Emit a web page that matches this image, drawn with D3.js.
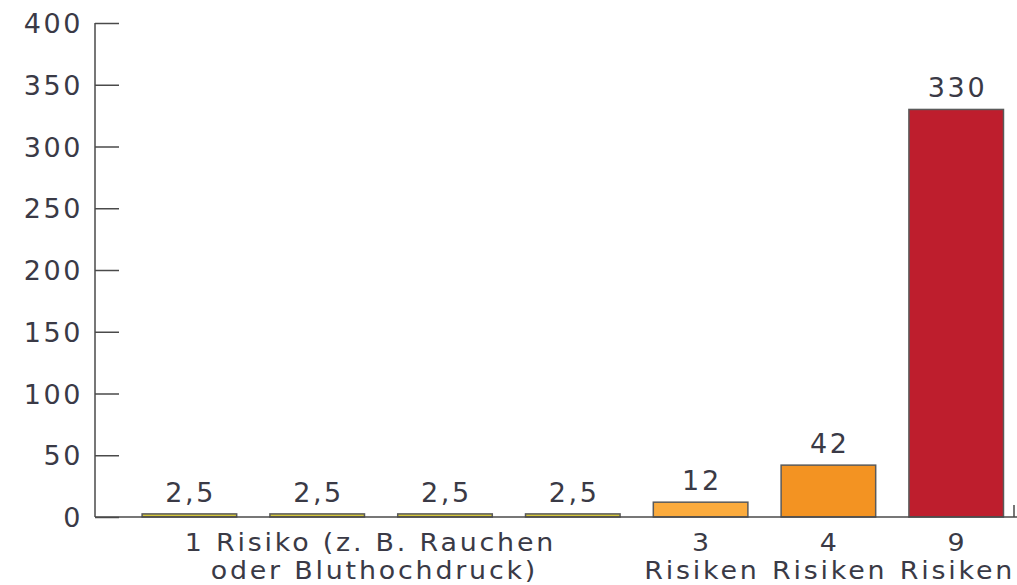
<!DOCTYPE html>
<html>
<head>
<meta charset="utf-8">
<script src="https://cdn.jsdelivr.net/npm/d3@7"></script>
<style>
  body { margin: 0; background: #fff; }
  text { font-family: "DejaVu Sans", sans-serif; fill: #3a3a46; font-size: 27px; letter-spacing: 2.6px; }
  text.cat { font-size: 24px; letter-spacing: 2.5px; }
</style>
</head>
<body>
<svg id="main_svg" width="1017" height="585"></svg>
<script>
// data
let categories = ["r1a", "r1b", "r1c", "r1d", "r3", "r4", "r9"];
let values = [2.5, 2.5, 2.5, 2.5, 12, 42, 330];
let valueLabels = ["2,5", "2,5", "2,5", "2,5", "12", "42", "330"];
let barColors = ["#d6c83c", "#d6c83c", "#d6c83c", "#d6c83c", "#fbab3d", "#f39322", "#be1e2d"];
let yTicks = [0, 50, 100, 150, 200, 250, 300, 350, 400];
let catLabels = [null, null, null, null, ["3", "Risiken"], ["4", "Risiken"], ["9", "Risiken"]];
let groupLabel = ["1 Risiko (z. B. Rauchen", "oder Bluthochdruck)"];

let svg = d3.select("#main_svg");

let x = d3.scaleBand()
    .domain(categories)
    .range([125.5, 125.5 + 7 * 127.8])
    .paddingInner(0.26)
    .paddingOuter(0.13);

let y = d3.scaleLinear()
    .domain([0, 400])
    .range([517, 23]);

let axisX = 95;
let sp = 1.3; // half of the letter spacing, trailing gap

// y axis
let yAxis = svg.append("g")
    .attr("transform", "translate(" + axisX + ",0)")
    .call(d3.axisRight(y).tickValues(yTicks).tickSize(24).tickFormat(""));
yAxis.select(".domain").remove();
yAxis.selectAll("line").attr("stroke", "#4a4a4a").attr("stroke-width", 1.5);

svg.append("line")
    .attr("x1", axisX).attr("x2", axisX)
    .attr("y1", y(400)).attr("y2", y(0))
    .attr("stroke", "#4a4a4a").attr("stroke-width", 1.5);

svg.selectAll("text.ylab")
    .data(yTicks)
    .enter().append("text")
    .attr("class", "ylab")
    .attr("x", 83)
    .attr("y", d => y(d) + 10)
    .attr("text-anchor", "end")
    .text(d => d);

// bars
svg.selectAll("rect.bar")
    .data(values)
    .enter().append("rect")
    .attr("class", "bar")
    .attr("x", (d, i) => x(categories[i]))
    .attr("width", x.bandwidth())
    .attr("y", d => y(d))
    .attr("height", d => y(0) - y(d))
    .attr("fill", (d, i) => barColors[i])
    .attr("stroke", "#5a5a5a")
    .attr("stroke-width", 1.5);

// baseline
svg.append("line")
    .attr("x1", axisX).attr("x2", 1017)
    .attr("y1", y(0)).attr("y2", y(0))
    .attr("stroke", "#4a4a4a").attr("stroke-width", 1.5);
svg.append("line")
    .attr("x1", 1014).attr("x2", 1014)
    .attr("y1", y(0) - 12).attr("y2", y(0))
    .attr("stroke", "#4a4a4a").attr("stroke-width", 1.5);

// value labels
svg.selectAll("text.val")
    .data(values)
    .enter().append("text")
    .attr("class", "val")
    .attr("x", (d, i) => x(categories[i]) + x.bandwidth() / 2 + sp)
    .attr("y", d => y(d) - 12)
    .attr("text-anchor", "middle")
    .text((d, i) => valueLabels[i]);

// category labels (glyphs stretched a bit to match the wide original face)
function catText(s, cx, cy) {
    svg.append("text")
        .attr("class", "cat")
        .attr("transform", "translate(" + cx + "," + cy + ") scale(1.12,1)")
        .attr("text-anchor", "middle")
        .text(s);
}

catLabels.forEach(function (lab, i) {
    if (!lab) return;
    let cx = x(categories[i]) + x.bandwidth() / 2 + sp;
    lab.forEach(function (s, k) {
        catText(s, cx, 551 + k * 28);
    });
});

let gx = (x(categories[0]) + x(categories[3]) + x.bandwidth()) / 2 - 12 + sp;
groupLabel.forEach(function (s, k) {
    catText(s, gx + k * 4, 551 + k * 28);
});
</script>
</body>
</html>
